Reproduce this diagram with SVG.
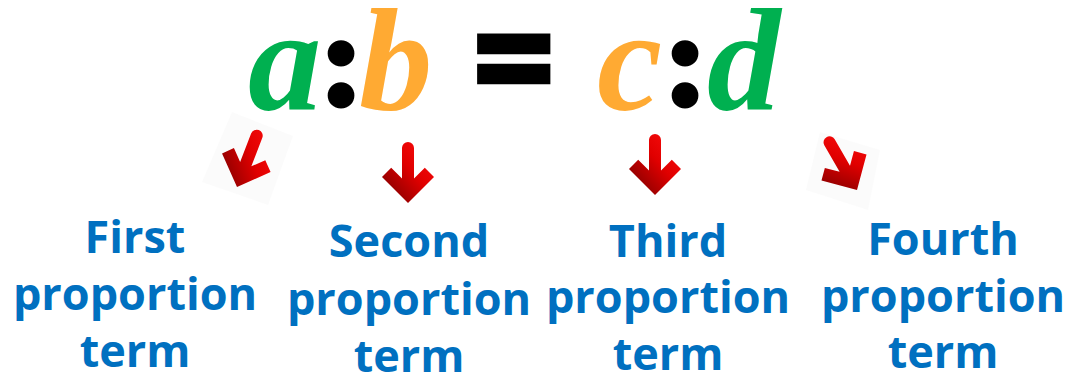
<svg xmlns="http://www.w3.org/2000/svg" width="1066" height="376" viewBox="0 0 1066 376">
<style>
.m{font-family:"Liberation Serif","Times New Roman",serif;font-weight:bold;font-style:italic;font-size:147px}
.g{fill:#00B050}
.o{fill:#FFAA33}
.col{font-family:Lato,"Liberation Sans",sans-serif;font-weight:900;font-size:121px;fill:#000;stroke:#000;stroke-width:7;text-anchor:middle}
.eq{font-family:"Liberation Sans",Arial,sans-serif;font-weight:bold;font-size:111px;fill:#000;stroke:#000;stroke-width:8.6}
.lbl{font-family:"Open Sans","Noto Sans",sans-serif;font-weight:bold;font-size:45px;fill:#0070C0;text-anchor:middle;font-variant-ligatures:none}
</style>
<defs>
<linearGradient id="rg" x1="1" y1="0" x2="0" y2="1">
<stop offset="0" stop-color="#FF1010"/>
<stop offset="0.45" stop-color="#E00000"/>
<stop offset="1" stop-color="#6E0000"/>
</linearGradient>
<path id="arr" d="M0,0 L-26,-26 L-16.8,-35.2 L-6,-24.4 L-6,-55 A6,6 0 0 1 6,-55 L6,-24.4 L16.8,-35.2 L26,-26 Z" fill="url(#rg)"/>
</defs>
<g id="formula">
<text class="m g" x="248" y="110">a</text>
<text class="col" x="341" y="104">:</text>
<text class="m o" x="359" y="110">b</text>
<text class="eq" transform="translate(478,96) scale(1.14,1)" x="-1" y="0">=</text>
<text class="m o" x="597" y="110">c</text>
<text class="col" x="685" y="104">:</text>
<text class="m g" x="707" y="110">d</text>
</g>
<g id="arrows">
<polygon points="232,112 293,136 268,205 202,182" fill="#f6f6f6" opacity="0.45"/>
<use href="#arr" transform="translate(237,187) rotate(21)"/>
<use href="#arr" transform="translate(408,203)"/>
<use href="#arr" transform="translate(655,195)"/>
<polygon points="820,132 880,150 868,210 806,190" fill="#f6f6f6" opacity="0.45"/>
<use href="#arr" transform="translate(857,190) rotate(-30)"/>
</g>
<g id="first">
<text class="lbl" x="135" y="253">First</text>
<text class="lbl" x="135" y="310">proportion</text>
<text class="lbl" x="135" y="367">term</text>
</g>
<g id="second">
<text class="lbl" x="409" y="257">Second</text>
<text class="lbl" x="409" y="315">proportion</text>
<text class="lbl" x="409" y="372">term</text>
</g>
<g id="third">
<text class="lbl" x="668" y="257">Third</text>
<text class="lbl" x="668" y="313">proportion</text>
<text class="lbl" x="668" y="370">term</text>
</g>
<g id="fourth">
<text class="lbl" x="943" y="255">Fourth</text>
<text class="lbl" x="943" y="312">proportion</text>
<text class="lbl" x="943" y="368">term</text>
</g>
</svg>
